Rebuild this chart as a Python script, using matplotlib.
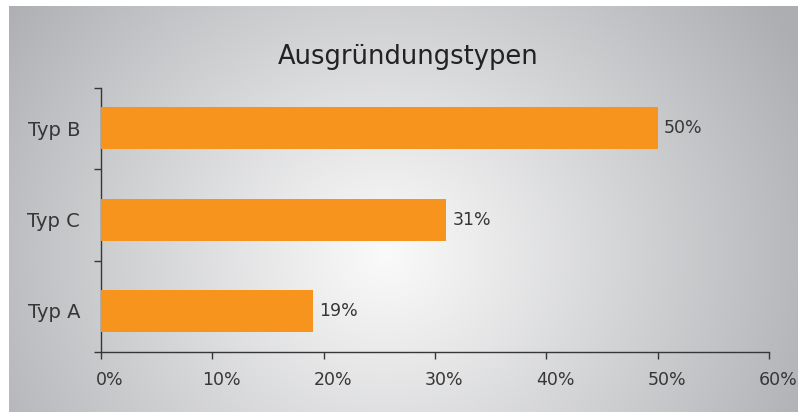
import numpy as np
import matplotlib
matplotlib.use("Agg")
import matplotlib.pyplot as plt
import matplotlib.transforms as mtransforms
from matplotlib.ticker import FixedLocator, NullFormatter, FixedFormatter

categories = ["Typ A", "Typ C", "Typ B"]
values = [19, 31, 50]
xticks = [0, 10, 20, 30, 40, 50, 60]
xtick_labels = ["0%", "10%", "20%", "30%", "40%", "50%", "60%"]
title = "Ausgründungstypen"

W, H, DPI = 798, 412, 100
plt.rcParams['font.family'] = ['DejaVu Sans']
TXT = "#363636"
BAR = "#F7941E"

fig = plt.figure(figsize=(W / DPI, H / DPI), dpi=DPI)
fig.patch.set_facecolor("white")

# background radial gradient panel
bx0, by0, bx1, by1 = 9, 6, 798, 412
bg = fig.add_axes([bx0 / W, 1 - by1 / H, (bx1 - bx0) / W, (by1 - by0) / H])
xs = np.arange(bx0, bx1)
ys = np.arange(by0, by1)
X, Y = np.meshgrid(xs, ys)
cx, cy, rx, ry = 385, 255, 470, 430
d = np.sqrt(((X - cx) / rx) ** 2 + ((Y - cy) / ry) ** 2)
t = np.clip(d, 0, 1) ** 1.05
c0 = np.array([0.98, 0.98, 0.98])
c1 = np.array([0.68, 0.685, 0.70])
img = c0[None, None, :] * (1 - t[..., None]) + c1[None, None, :] * t[..., None]
bg.imshow(img, aspect="auto", extent=[0, 1, 0, 1], interpolation="bilinear")
bg.set_axis_off()

# main axes
ax_l, ax_r, ax_t, ax_b = 101, 769, 88, 352
ax = fig.add_axes([ax_l / W, 1 - ax_b / H, (ax_r - ax_l) / W, (ax_b - ax_t) / H])
ax.patch.set_alpha(0)

ylo, yhi = -0.45, 2.44
ypos = np.arange(len(categories))
ax.barh(ypos, values, height=0.46, color=BAR, zorder=3)
for y, v in zip(ypos, values):
    ax.annotate(f"{v}%", xy=(v, y), xytext=(4.5, 0), textcoords="offset points",
                va="center", ha="left", fontsize=12.5, color=TXT)

ax.set_xlim(0, 60)
ax.set_ylim(ylo, yhi)

ax.xaxis.set_major_locator(FixedLocator(xticks))
ax.xaxis.set_major_formatter(FixedFormatter(xtick_labels))
ax.yaxis.set_major_locator(FixedLocator([ylo, 0.55, 1.55, yhi]))
ax.yaxis.set_major_formatter(NullFormatter())
ax.yaxis.set_minor_locator(FixedLocator(ypos))
ax.yaxis.set_minor_formatter(FixedFormatter(categories))

for s in ["top", "right"]:
    ax.spines[s].set_visible(False)
for s in ["left", "bottom"]:
    ax.spines[s].set_color(TXT)
    ax.spines[s].set_linewidth(1.0)

ax.tick_params(axis="x", which="major", direction="out", length=5, width=1,
               color=TXT, labelsize=12.5, labelcolor=TXT, pad=9)
ax.tick_params(axis="y", which="major", direction="out", length=5, width=1, color=TXT)
ax.tick_params(axis="y", which="minor", length=0, labelsize=14, labelcolor=TXT, pad=15)

offset = mtransforms.ScaledTranslation(9 / DPI, 0, fig.dpi_scale_trans)
for lab in ax.get_xticklabels():
    lab.set_transform(lab.get_transform() + offset)

fig.text(408 / W, 1 - 64 / H, title, ha="center", va="baseline", fontsize=18.5, color="#222222")

fig.savefig("out.png", dpi=DPI)
